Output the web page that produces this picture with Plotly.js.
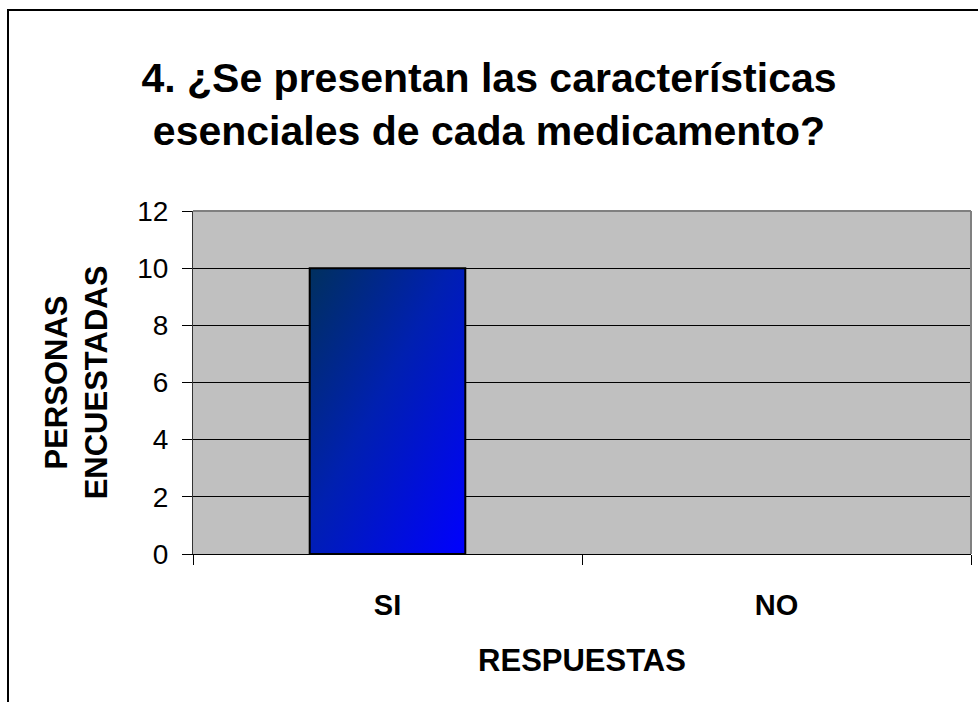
<!DOCTYPE html>
<html>
<head>
<meta charset="utf-8">
<script src="https://cdn.plot.ly/plotly-3.0.1.min.js"></script>
<style>
  html, body { margin: 0; padding: 0; background: #ffffff; }
  #chart { width: 978px; height: 702px; }
</style>
</head>
<body>
<div id="chart"></div>
<script>
const categories = ["SI", "NO"];
const values = [10, 0];
const yTicks = [0, 2, 4, 6, 8, 10, 12];
const titleText = "4. ¿Se presentan las características<br>esenciales de cada medicamento?";
const xTitle = "RESPUESTAS";
const yTitle = "PERSONAS<br>ENCUESTADAS";

const FONT = "Liberation Sans, Arial, Helvetica, sans-serif";

const trace = {
  type: "bar",
  x: categories,
  y: values,
  width: 0.4,
  marker: { color: "#0020c0", line: { color: "#000000", width: values.map(function (v) { return v > 0 ? 2 : 0; }) } },
  hoverinfo: "skip"
};

const layout = {
  width: 978,
  height: 702,
  margin: { l: 193, r: 7, t: 211, b: 148, pad: 0 },
  paper_bgcolor: "#ffffff",
  plot_bgcolor: "#c0c0c0",
  showlegend: false,
  font: { family: FONT, color: "#000000", size: 28 },
  title: {
    text: titleText,
    font: { family: FONT, size: 41, color: "#000000", weight: "bold" },
    x: 0.5, xref: "container", xanchor: "center",
    y: 1 - 92 / 702, yref: "container", yanchor: "top"
  },
  xaxis: {
    type: "category",
    categoryorder: "array",
    categoryarray: categories,
    range: [-0.5, 1.5],
    showgrid: false,
    zeroline: false,
    showline: true, linecolor: "#000000", linewidth: 1,
    ticks: "outside", ticklen: 10, tickcolor: "#000000", tickwidth: 1,
    tickson: "boundaries",
    ticklabelstandoff: 25,
    tickfont: { family: FONT, size: 29, color: "#000000", weight: "bold" },
    title: { text: xTitle, standoff: 29, font: { family: FONT, size: 31, color: "#000000", weight: "bold" } },
    fixedrange: true
  },
  yaxis: {
    range: [0, 12],
    tickvals: yTicks,
    ticktext: yTicks.map(String),
    showgrid: true, gridcolor: "#000000", gridwidth: 1,
    zeroline: false,
    showline: true, linecolor: "#333333", linewidth: 1,
    ticks: "outside", ticklen: 10, tickcolor: "#000000", tickwidth: 1,
    ticklabelstandoff: 8,
    tickfont: { family: FONT, size: 28, color: "#000000" },
    title: { text: yTitle, standoff: 20, font: { family: FONT, size: 31, color: "#000000", weight: "bold" } },
    fixedrange: true
  },
  shapes: [
    { type: "line", xref: "paper", yref: "paper", x0: 0, x1: 1, y0: 1, y1: 1, line: { color: "#808080", width: 2 } },
    { type: "line", xref: "paper", yref: "paper", x0: 1, x1: 1, y0: 0, y1: 1, line: { color: "#808080", width: 2 } },
    { type: "rect", xref: "paper", yref: "paper",
      x0: (8 - 193) / 778, x1: 1.2, y0: -0.6, y1: (554 - 10) / 343,
      line: { color: "#000000", width: 2 }, layer: "below" }
  ]
};

Plotly.newPlot("chart", [trace], layout, { displayModeBar: false, staticPlot: true }).then(function (gd) {
  const svg = gd.querySelector("svg.main-svg");
  const ns = "http://www.w3.org/2000/svg";
  let defs = svg.querySelector("defs");
  if (!defs) { defs = document.createElementNS(ns, "defs"); svg.insertBefore(defs, svg.firstChild); }
  const grad = document.createElementNS(ns, "linearGradient");
  grad.setAttribute("id", "barGrad");
  grad.setAttribute("x1", "0"); grad.setAttribute("y1", "0");
  grad.setAttribute("x2", "1"); grad.setAttribute("y2", "1");
  const stops = [["0%", "#00305e"], ["45%", "#0020b0"], ["100%", "#0000ff"]];
  stops.forEach(function (s) {
    const st = document.createElementNS(ns, "stop");
    st.setAttribute("offset", s[0]);
    st.setAttribute("stop-color", s[1]);
    grad.appendChild(st);
  });
  defs.appendChild(grad);
  gd.querySelectorAll(".trace.bars .point path").forEach(function (p) {
    p.style.fill = "url(#barGrad)";
  });
});
</script>
</body>
</html>
